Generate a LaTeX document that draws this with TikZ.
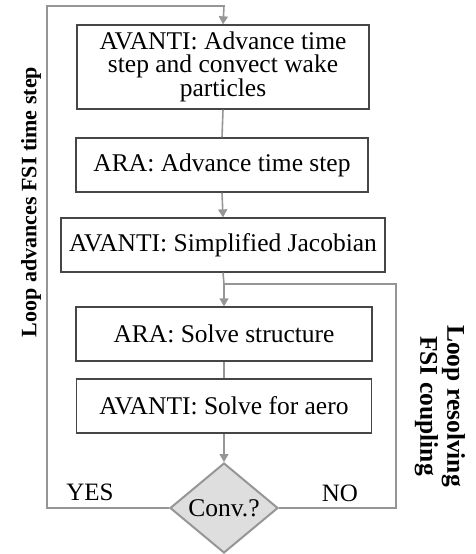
\documentclass[tikz,border=0pt]{standalone}
\usepackage{fontspec}
\setmainfont{Liberation Serif}
\usetikzlibrary{arrows.meta,shapes.geometric}
\definecolor{flow}{RGB}{150,150,150}
\definecolor{edge}{RGB}{70,70,70}
\definecolor{decfill}{RGB}{222,222,222}
\begin{document}
\begin{tikzpicture}[x=1pt,y=-1pt,
  stepbox/.style={draw=edge,line width=1.3pt,fill=white,inner sep=1pt,align=center,
    font=\fontsize{25.5}{22.5}\selectfont},
  flowline/.style={draw=flow,line width=1.6pt},
  flowarrow/.style={flowline,-{Triangle[length=8pt,width=9pt]}},
  looplabel/.style={font=\fontsize{22}{27}\selectfont\bfseries,align=center},
  answer/.style={font=\fontsize{25}{25}\selectfont}]
\useasboundingbox (0,0) rectangle (475,554);

\node[stepbox,minimum width=292pt,minimum height=84pt] (adv) at (223,67)
  {AVANTI: Advance time\\step and convect wake\\particles};
\node[stepbox,minimum width=292pt,minimum height=54pt] (ara) at (222,165)
  {ARA: Advance time step};
\node[stepbox,minimum width=324pt,minimum height=54pt] (jac) at (223,245)
  {AVANTI: Simplified Jacobian};
\node[stepbox,minimum width=296pt,minimum height=54pt] (struct) at (224,334)
  {ARA: Solve structure};
\node[stepbox,minimum width=295pt,minimum height=54pt] (aero) at (224,406)
  {AVANTI: Solve for aero};
\node[diamond,draw=flow,line width=2pt,fill=decfill,minimum width=108pt,minimum height=90pt,
  inner sep=0pt,font=\fontsize{25.5}{25}\selectfont] (conv) at (224,508) {Conv.?};

% main sequence
\draw[flowline] (adv.south) -- (ara.north);
\draw[flowarrow] (ara.south) -- (jac.north);
\coordinate (join) at (224,284);
\draw[flowline] (jac.south) -- (join);
\draw[flowarrow] (join) -- (struct.north);
\draw[flowline] (struct.south) -- (aero.north);
\draw[flowarrow] (aero.south) -- (conv.north);

% outer loop: converged, next time step
\coordinate (yesc) at (47,508);
\coordinate (topl) at (47,6);
\coordinate (topc) at (224,6);
\draw[flowarrow] (conv.west) -- (yesc) -- (topl) -- (topc) -- (adv.north);

% inner loop: not converged, iterate coupling
\coordinate (noc) at (396,508);
\coordinate (nor) at (396,284);
\draw[flowline] (conv.east) -- (noc) -- (nor) -- (join);

\node[answer] (yes) at (90,492) {YES};
\node[answer] (no) at (340,493) {NO};

\node[looplabel,rotate=90] (outer) at (31,202) {Loop advances FSI time step};
\node[looplabel,rotate=-90,font=\fontsize{25.5}{27}\selectfont\bfseries] (inner) at (440,406)
  {Loop resolving\\FSI coupling};
\end{tikzpicture}
\end{document}
